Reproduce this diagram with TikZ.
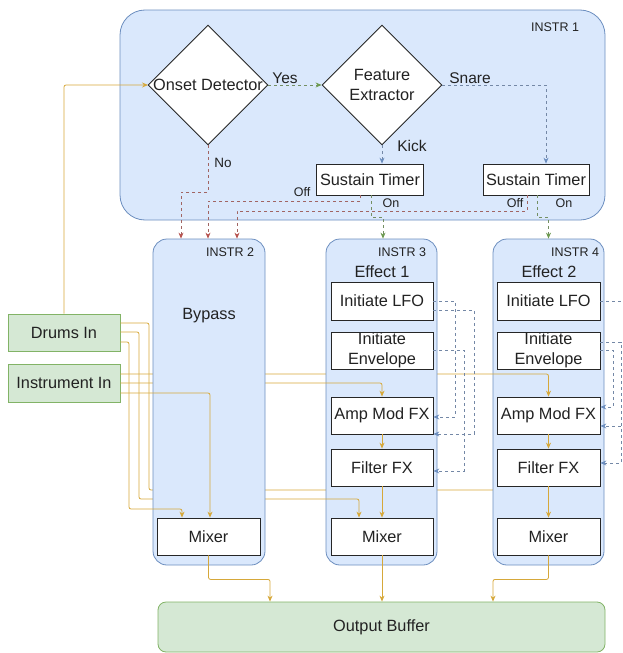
\documentclass[tikz,border=0pt]{standalone}
\usepackage{fontspec}
\setmainfont{Liberation Sans}
\usetikzlibrary{shapes.geometric,arrows.meta}
\definecolor{cfill}{HTML}{DAE8FC}
\definecolor{cdraw}{HTML}{6C8EBF}
\definecolor{gfill}{HTML}{D5E8D4}
\definecolor{gdraw}{HTML}{82B366}
\definecolor{oline}{HTML}{D6A83A}
\definecolor{rline}{HTML}{B85450}
\definecolor{gline}{HTML}{6D9A50}
\definecolor{bline}{HTML}{6C8EBF}
\definecolor{txt}{HTML}{222222}
\begin{document}
\begin{tikzpicture}[x=1pt,y=-1pt,
  every node/.style={text=txt},
  mainfont/.style={font=\fontsize{16.3}{20}\selectfont},
  labfont/.style={font=\fontsize{15.5}{18}\selectfont},
  smallfont/.style={font=\fontsize{12.5}{15}\selectfont},
  container/.style={draw=cdraw, fill=cfill, line width=0.8pt, rounded corners=#1, inner sep=0pt},
  greenbox/.style={draw=gdraw, fill=gfill, line width=0.8pt, rounded corners=#1, inner sep=0pt, mainfont},
  whitebox/.style={draw=black!85, fill=white, line width=0.8pt, inner sep=0pt, mainfont, align=center},
  decision/.style={diamond, draw=black!85, fill=white, line width=0.9pt, minimum width=120pt, minimum height=120pt, inner sep=0pt},
  owire/.style={draw=oline, line width=0.8pt, rounded corners=2pt, -{Stealth[length=6pt,width=5pt]}},
  dwire/.style={draw=#1!60!gray, line width=0.7pt, dash pattern=on 3pt off 3pt, -{Stealth[length=6pt,width=5pt,color=#1]}},
]
\useasboundingbox (0,0) rectangle (623,653);

% INSTR 1 container
\node[container=25pt, minimum width=485pt, minimum height=210pt] (i1) at (362.5,115) {};
\node[smallfont] (i1l) at (555,27) {INSTR 1};

% inputs and output
\node[greenbox=0pt, minimum width=112pt, minimum height=37pt] (drums) at (64,332.5) {Drums In};
\node[greenbox=0pt, minimum width=112pt, minimum height=38pt] (instr) at (64,383) {Instrument In};
\node[greenbox=8pt, minimum width=447pt, minimum height=50pt] (out) at (381.5,627) {Output Buffer};

\path (208.5,536.5) coordinate (m2c) (382,536.5) coordinate (m3c) (548.5,536.5) coordinate (m4c);

% wire hidden behind all effect containers
\draw[owire] ([yshift=9.5pt]drums.east) -| (149,490) -| (520.5,518);

% INSTR 4 container
\node[container=14pt, minimum width=111pt, minimum height=326pt] (i4) at (548.5,402) {};
\node[whitebox, minimum width=103pt, minimum height=37pt] (amp4) at (548.5,415.5) {Amp Mod FX};
\draw[owire] ([yshift=9pt]instr.east) -| (amp4.north);

% INSTR 3 container
\node[container=14pt, minimum width=111pt, minimum height=326pt] (i3) at (381.5,402) {};
\node[whitebox, minimum width=102pt, minimum height=37pt] (amp3) at (382,415.5) {Amp Mod FX};
\node[whitebox, minimum width=102pt, minimum height=37pt] (mix3) at (m3c) {Mixer};
\draw[owire] ([yshift=0.5pt]drums.east) -| (139,499) -| ([xshift=-23pt]mix3.north);
\draw[owire] (instr.east) -| (amp3.north);

% INSTR 2 container
\node[container=14pt, minimum width=112pt, minimum height=326pt] (i2) at (209,402) {};
\node[mainfont] (bypass) at (209,316) {Bypass};
\node[whitebox, minimum width=103pt, minimum height=37pt] (mix2) at (m2c) {Mixer};
\draw[owire] ([yshift=-9.5pt]drums.east) -| (129,509) -| ([xshift=-26.5pt]mix2.north);
\draw[owire] ([yshift=-10pt]instr.east) -| ([xshift=1.5pt]mix2.north);
\draw[owire] (drums.north) |- (148,85);

% container labels
\node[smallfont] (i2l) at (230,252) {INSTR 2};
\node[smallfont] (i3l) at (402,252) {INSTR 3};
\node[smallfont] (i4l) at (575,252) {INSTR 4};
\node[mainfont] (e1) at (382,272) {Effect 1};
\node[mainfont] (e2) at (549,272) {Effect 2};

% INSTR 3 boxes
\node[whitebox, minimum width=102pt, minimum height=38pt] (lfo3) at (382,301) {Initiate LFO};
\node[whitebox, minimum width=102pt, minimum height=37pt] (env3) at (382,350.5) {Initiate\\Envelope};
\node[whitebox, minimum width=102pt, minimum height=37pt] (filt3) at (382,467.5) {Filter FX};

% INSTR 4 boxes
\node[whitebox, minimum width=103pt, minimum height=38pt] (lfo4) at (548.5,301) {Initiate LFO};
\node[whitebox, minimum width=103pt, minimum height=37pt] (env4) at (548.5,350.5) {Initiate\\Envelope};
\node[whitebox, minimum width=103pt, minimum height=37pt] (filt4) at (548.5,467.5) {Filter FX};
\node[whitebox, minimum width=103pt, minimum height=37pt] (mix4) at (m4c) {Mixer};

% effect chains
\draw[owire] (amp3) -- (filt3);
\draw[owire] (filt3) -- (mix3);
\draw[owire] (amp4) -- (filt4);
\draw[owire] (filt4) -- (mix4);

% mixers to output
\draw[owire] (mix2.south) -- ++(0,24) -| ([xshift=-111.5pt]out.north);
\draw[owire] (mix3.south) -- (mix3.south |- out.north);
\draw[owire] (mix4.south) -- ++(0,24) -| ([xshift=111.5pt]out.north);

% modulation control lines
\draw[dwire=bline] (lfo3.east) -| (455,417) -- ([yshift=-1.5pt]amp3.east);
\draw[dwire=bline] ([yshift=-9pt]lfo3.east) -| (474,434) -- ([yshift=-18.5pt]amp3.east);
\draw[dwire=bline] ([yshift=0.5pt]env3.east) -| (464,471) -- ([yshift=-3.5pt]filt3.east);
\draw[dwire=bline] (lfo4.east) -| (632,426) -- ([yshift=-10.5pt]amp4.east);
\draw[dwire=bline] ([yshift=8.5pt]env4.east) -| (621,463) -- ([yshift=4.5pt]filt4.east);
\draw[dwire=bline] ([yshift=0.5pt]env4.east) -| (613,407) -- ([yshift=8.5pt]amp4.east);

% INSTR 1 contents
\node[decision] (od) at (208,85) {};
\node[mainfont] (odt) at (od) {Onset Detector};
\node[decision] (fe) at (382,85) {};
\node[mainfont, align=center] (fet) at (fe) {Feature\\Extractor};
\node[whitebox, minimum width=107pt, minimum height=31pt] (st1) at (370,179.5) {Sustain Timer};
\node[whitebox, minimum width=106pt, minimum height=31pt] (st2) at (536,179.5) {Sustain Timer};

\draw[dwire=gline] (od.east) -- (fe.west);
\draw[dwire=bline] (fe.east) -| ([xshift=10pt]st2.north);
\draw[dwire=bline] (fe.south) -- (fe.south |- st1.north);
\draw[dwire=rline] (od.south) -- ++(0,47) -| ([xshift=-28pt]i2.north);
\draw[dwire=rline] ([xshift=-10pt]st1.south) -- ++(0,6) -| ([xshift=-1pt]i2.north);
\draw[dwire=rline] ([xshift=-9pt]st2.south) -- ++(0,16) -| ([xshift=28pt]i2.north);
\draw[dwire=gline] ([xshift=1pt]st1.south) -- ++(0,22) -| ([xshift=1.5pt]i3.north);
\draw[dwire=gline] ([xshift=1pt]st2.south) -- ++(0,22) -| (i4.north);

% edge labels
\node[labfont] (lyes) at (285,78) {Yes};
\node[labfont] (lsnare) at (470,78) {Snare};
\node[labfont] (lkick) at (412,146) {Kick};
\node[font=\fontsize{13.5}{16}\selectfont] (lno) at (223,163) {No};
\node[smallfont] (loff1) at (302,192) {Off};
\node[smallfont] (loff2) at (515,203) {Off};
\node[smallfont] (lon1) at (391,203) {On};
\node[smallfont] (lon2) at (564,203) {On};
\end{tikzpicture}
\end{document}
